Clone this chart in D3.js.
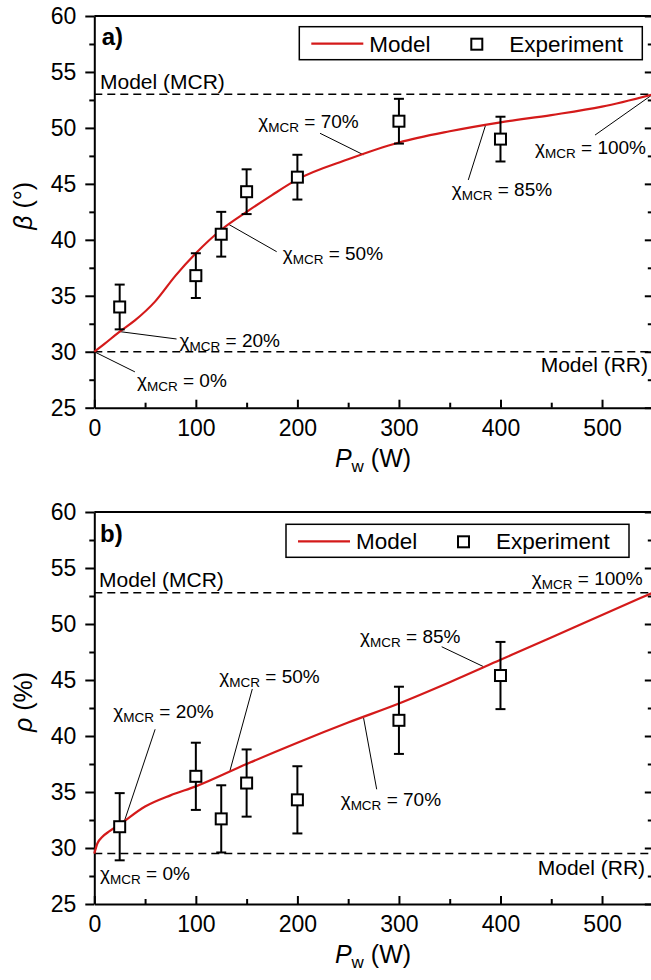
<!DOCTYPE html>
<html>
<head>
<meta charset="utf-8">
<script src="https://cdn.jsdelivr.net/npm/d3@7"></script>
<style>
  body { margin: 0; background: #fff; }
  svg text { font-family: "Liberation Sans", Arial, sans-serif; fill: #000; }
</style>
</head>
<body>
<svg id="chart" width="651" height="980"></svg>
<script>
// --- data ---
const yTicks = [25, 30, 35, 40, 45, 50, 55, 60];
const xTicks = [0, 100, 200, 300, 400, 500];
const expPower = [25, 100, 125, 150, 200, 300, 400];

// panel a) beta
const betaExp = [34.0, 36.8, 40.5, 44.3, 45.6, 50.6, 49.0];
const betaErr = [2, 2, 2, 2, 2, 2, 2];
const betaModelX = [0, 10, 25, 40, 60, 80, 100, 125, 150, 175, 200, 250, 300, 350, 400, 450, 500, 550];
const betaModelY = [30.0, 30.7, 31.8, 32.8, 34.5, 36.8, 38.8, 40.9, 42.5, 44.0, 45.4, 47.2, 48.7, 49.7, 50.5, 51.15, 51.9, 53.0];
const betaMCR = 53.0;
const betaRR = 30.0;

// panel b) rho
const rhoExp = [31.9, 36.4, 32.6, 35.8, 34.3, 41.4, 45.4];
const rhoErr = [3, 3, 3, 3, 3, 3, 3];
const rhoModelX = [0, 3, 8, 15, 25, 50, 75, 100, 150, 200, 250, 300, 350, 400, 450, 500, 550];
const rhoModelY = [29.5, 30.4, 31.0, 31.5, 32.1, 33.7, 34.7, 35.5, 37.5, 39.4, 41.2, 42.9, 44.8, 46.8, 48.8, 50.8, 52.8];
const rhoMCR = 52.8;
const rhoRR = 29.5;

// annotation labels (chi_MCR values) with anchor points in data units
const betaNotes = [
  { v: "0%",   from: [0, 30],        to: [40, 28.2],    at: [42, 26.88] },
  { v: "20%",  from: [25, 31.8],     to: [81, 31.14],   at: [84, 30.45] },
  { v: "50%",  from: [132, 41.4],    to: [179.6, 38.94], at: [185.5, 38.2] },
  { v: "70%",  from: [265, 47.6],    to: [222.3, 49.52], at: [161.5, 49.95] },
  { v: "85%",  from: [385.5, 50.3],  to: [368.3, 45.35], at: [352, 43.9] },
  { v: "100%", from: [550, 53],      to: [493.1, 49.36], at: [434, 47.67] }
];
const rhoNotes = [
  { v: "0%",   at: [5.7, 27.14] },
  { v: "20%",  from: [30, 32.5],     to: [59.9, 40.6],  at: [18.7, 41.58] },
  { v: "50%",  from: [133.6, 36.9],  to: [155.6, 44.2], at: [123.1, 44.76] },
  { v: "70%",  from: [265.2, 41.6],  to: [278.1, 35.24], at: [242.6, 33.75] },
  { v: "85%",  from: [383.1, 46.2],  to: [342.1, 47.97], at: [261.7, 48.33] },
  { v: "100%", at: [430.8, 53.48] }
];

const red = "#d41a1a";
const svg = d3.select("#chart");
const x = d3.scaleLinear().domain([0, 550]).range([94.3, 652.8]);

function drawPanel(cfg) {
  const y = d3.scaleLinear().domain([25, 60]).range([cfg.bottom, cfg.top]);
  const g = svg.append("g");

  // minor ticks
  g.append("g").attr("transform", `translate(${x(0)},0)`)
    .call(d3.axisLeft(y).tickValues(d3.range(27.5, 60, 5)).tickSize(5).tickFormat("").tickSizeOuter(0))
    .call(a => a.select(".domain").remove());
  g.append("g").attr("transform", `translate(${x(550)},0)`)
    .call(d3.axisRight(y).tickValues(d3.range(27.5, 60, 5)).tickSize(-5).tickFormat("").tickSizeOuter(0))
    .call(a => a.select(".domain").remove());
  g.append("g").attr("transform", `translate(0,${cfg.bottom})`)
    .call(d3.axisBottom(x).tickValues(d3.range(50, 550, 100)).tickSize(-5).tickFormat("").tickSizeOuter(0))
    .call(a => a.select(".domain").remove());

  // major axes
  g.append("g").attr("transform", `translate(${x(0)},0)`)
    .call(d3.axisLeft(y).tickValues(yTicks).tickSize(9).tickPadding(9).tickSizeOuter(0))
    .call(a => a.selectAll("text").style("font-size", "23px"));
  g.append("g").attr("transform", `translate(${x(550)},0)`)
    .call(d3.axisRight(y).tickValues(yTicks).tickSize(-8).tickFormat("").tickSizeOuter(0));
  g.append("g").attr("transform", `translate(0,${cfg.bottom})`)
    .call(d3.axisBottom(x).tickValues(xTicks).tickSize(-8).tickPadding(12).tickSizeOuter(0))
    .call(a => a.selectAll("text").style("font-size", "23px"));
  g.append("line").attr("x1", x(0)).attr("x2", x(550)).attr("y1", y(60)).attr("y2", y(60))
    .attr("stroke", "#000").attr("stroke-width", 2);
  g.selectAll(".domain, .tick line").attr("stroke", "#000").attr("stroke-width", 2);

  // reference dashed lines
  [cfg.mcr, cfg.rr].forEach(v => {
    g.append("line").attr("x1", x(0)).attr("x2", x(550)).attr("y1", y(v)).attr("y2", y(v))
      .attr("stroke", "#000").attr("stroke-width", 1.5).attr("stroke-dasharray", "8,5");
  });
  g.append("text").attr("x", x(cfg.mcrText[0])).attr("y", y(cfg.mcrText[1]))
    .style("font-size", "21px").text("Model (MCR)");
  g.append("text").attr("x", x(cfg.rrText[0])).attr("y", y(cfg.rrText[1]))
    .attr("text-anchor", "end").style("font-size", "21px").text("Model (RR)");

  // annotation leaders
  cfg.notes.filter(n => n.from).forEach(n => {
    g.append("line").attr("x1", x(n.from[0])).attr("y1", y(n.from[1]))
      .attr("x2", x(n.to[0])).attr("y2", y(n.to[1]))
      .attr("stroke", "#000").attr("stroke-width", 1);
  });

  // model curve
  const line = d3.line().x(d => x(d[0])).y(d => y(d[1])).curve(d3.curveMonotoneX);
  g.append("path").datum(d3.zip(cfg.mx, cfg.my)).attr("d", line)
    .attr("fill", "none").attr("stroke", red).attr("stroke-width", 2.2);

  // experiment error bars and squares
  const pts = expPower.map((p, i) => ({ p, v: cfg.exp[i], e: cfg.err[i] }));
  const eb = g.selectAll(".eb").data(pts).enter().append("g");
  eb.append("line").attr("x1", d => x(d.p)).attr("x2", d => x(d.p))
    .attr("y1", d => y(d.v + d.e)).attr("y2", d => y(d.v - d.e));
  eb.append("line").attr("x1", d => x(d.p) - 5).attr("x2", d => x(d.p) + 5)
    .attr("y1", d => y(d.v + d.e)).attr("y2", d => y(d.v + d.e));
  eb.append("line").attr("x1", d => x(d.p) - 5).attr("x2", d => x(d.p) + 5)
    .attr("y1", d => y(d.v - d.e)).attr("y2", d => y(d.v - d.e));
  eb.selectAll("line").attr("stroke", "#000").attr("stroke-width", 2);
  eb.append("rect").attr("x", d => x(d.p) - 5.5).attr("y", d => y(d.v) - 5.5)
    .attr("width", 11).attr("height", 11)
    .attr("fill", "#fff").attr("stroke", "#000").attr("stroke-width", 2);

  // annotation texts
  cfg.notes.forEach(n => {
    const t = g.append("text").attr("x", x(n.at[0])).attr("y", y(n.at[1])).style("font-size", "19px");
    t.append("tspan").text("χ");
    t.append("tspan").attr("dy", 4).style("font-size", "13.5px").text("MCR");
    t.append("tspan").attr("dy", -4).text(" = " + n.v);
  });

  // panel label
  g.append("text").attr("x", x(cfg.tag[0])).attr("y", y(cfg.tag[1]))
    .style("font-size", "24px").style("font-weight", "bold").text(cfg.label);

  // legend
  const L = g.append("g").attr("transform", `translate(${cfg.legend[0]},${cfg.legend[1]})`);
  L.append("rect").attr("width", 343).attr("height", 33)
    .attr("fill", "#fff").attr("stroke", "#000").attr("stroke-width", 1.5);
  L.append("line").attr("x1", 12).attr("x2", 64).attr("y1", 17).attr("y2", 17)
    .attr("stroke", red).attr("stroke-width", 2.2);
  L.append("text").attr("x", 70).attr("y", 25).style("font-size", "22.5px").text("Model");
  L.append("rect").attr("x", 172).attr("y", 12).attr("width", 11).attr("height", 11)
    .attr("fill", "#fff").attr("stroke", "#000").attr("stroke-width", 2);
  L.append("text").attr("x", 210).attr("y", 25).style("font-size", "22.5px").text("Experiment");

  // axis titles
  const yl = g.append("text")
    .attr("transform", `translate(32,${(cfg.top + cfg.bottom) / 2 - 6}) rotate(-90)`)
    .attr("text-anchor", "middle").style("font-size", "25px");
  yl.append("tspan").style("font-style", "italic").text(cfg.sym);
  yl.append("tspan").text(" " + cfg.unit);
  const xl = g.append("text").attr("x", 373).attr("y", cfg.bottom + 59)
    .attr("text-anchor", "middle").style("font-size", "25px");
  xl.append("tspan").style("font-style", "italic").text("P");
  xl.append("tspan").attr("dy", 5).style("font-size", "17px").text("w");
  xl.append("tspan").attr("dy", -5).text(" (W)");
}

drawPanel({
  top: 16, bottom: 407.7, label: "a)", tag: [7.3, 57.4],
  exp: betaExp, err: betaErr, mx: betaModelX, my: betaModelY,
  mcr: betaMCR, rr: betaRR, mcrText: [5.6, 53.5], rrText: [545.3, 28.2],
  notes: betaNotes, legend: [299.3, 26.7], sym: "β", unit: "(°)"
});
drawPanel({
  top: 512, bottom: 904, label: "b)", tag: [5.6, 57.3],
  exp: rhoExp, err: rhoErr, mx: rhoModelX, my: rhoModelY,
  mcr: rhoMCR, rr: rhoRR, mcrText: [4.6, 53.3], rrText: [542.4, 27.6],
  notes: rhoNotes, legend: [286, 524.3], sym: "ρ", unit: "(%)"
});
</script>
</body>
</html>
